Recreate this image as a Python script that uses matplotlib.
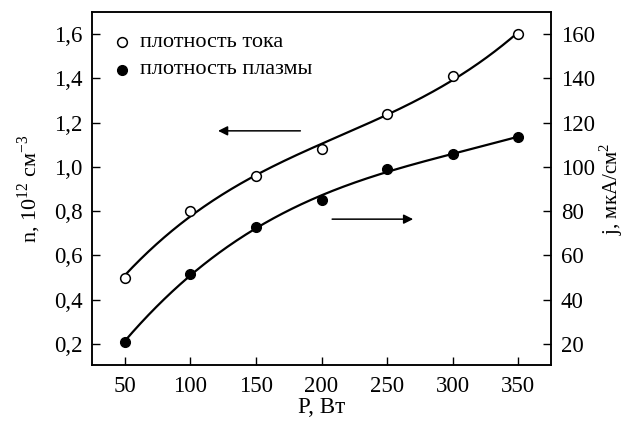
import numpy as np
import matplotlib
matplotlib.use("Agg")
import matplotlib.pyplot as plt
from matplotlib.ticker import FuncFormatter

plt.rcParams['font.family'] = ['Liberation Serif', 'DejaVu Serif']
plt.rcParams['mathtext.fontset'] = 'custom'
plt.rcParams['mathtext.rm'] = 'Liberation Serif'

power = [50, 100, 150, 200, 250, 300, 350]
current_density = [0.50, 0.80, 0.96, 1.08, 1.24, 1.41, 1.60]   # left axis, n units
plasma_density = [21, 51.5, 73, 85, 99, 106, 113.5]            # right axis, j units
label_open = "плотность тока"
label_filled = "плотность плазмы"
left_ticks = [0.2, 0.4, 0.6, 0.8, 1.0, 1.2, 1.4, 1.6]
right_ticks = [20, 40, 60, 80, 100, 120, 140, 160]
x_ticks = [50, 100, 150, 200, 250, 300, 350]

fig = plt.figure(figsize=(6.25, 4.21), dpi=100)
ax = fig.add_axes([92/625, 1-365/421, (551-92)/625, (365-12)/421])
ax2 = ax.twinx()

ax.set_xlim(25, 375)
ax.set_ylim(0.105, 1.70)
ax2.set_ylim(10.5, 170)

xs = np.linspace(50, 350, 300)
c1 = np.polyfit(power, current_density, 3)
ax.plot(xs, np.polyval(c1, xs), color='black', lw=1.6, zorder=2)
ax.plot(power, current_density, 'o', ms=7, mfc='white', mec='black', mew=1.1, zorder=3)

c2 = np.polyfit(power, plasma_density, 3)
ax2.plot(xs, np.polyval(c2, xs), color='black', lw=1.6, zorder=2)
ax2.plot(power, plasma_density, 'o', ms=7, mfc='black', mec='black', zorder=3)

ax.set_xticks(x_ticks)
ax.set_yticks(left_ticks)
ax2.set_yticks(right_ticks)
ax.yaxis.set_major_formatter(FuncFormatter(lambda v, p: f"{v:.1f}".replace('.', ',')))

for a in (ax, ax2):
    a.tick_params(direction='in', length=6, width=1, labelsize=16.5, pad=7)
    for s in a.spines.values():
        s.set_linewidth(1.1)
ax.tick_params(axis='y', right=False)
ax2.tick_params(axis='y', left=False)
ax.tick_params(axis='x', pad=8)

ax.set_xlabel("P, Вт", fontsize=16.5, labelpad=0)
ax.set_ylabel("n, 10$^{12}$ см$^{-3}$", fontsize=16, labelpad=8)
ax2.set_ylabel("j, мкА/см$^{2}$", fontsize=15, labelpad=2)

# legend
lx, ly1, ly2 = 0.065, 0.915, 0.836
ax.plot([lx], [ly1], 'o', ms=7, mfc='white', mec='black', mew=1.1, transform=ax.transAxes, clip_on=False)
ax.plot([lx], [ly2], 'o', ms=7, mfc='black', mec='black', transform=ax.transAxes, clip_on=False)
ax.text(0.105, ly1, label_open, transform=ax.transAxes, fontsize=16, va='center')
ax.text(0.105, ly2, label_filled, transform=ax.transAxes, fontsize=16, va='center')

# arrows
ax.annotate('', xy=(119, 1.163), xytext=(186, 1.163),
            arrowprops=dict(arrowstyle='-|>', color='black', lw=1.1, mutation_scale=14))
ax.annotate('', xy=(272, 0.764), xytext=(206, 0.764),
            arrowprops=dict(arrowstyle='-|>', color='black', lw=1.1, mutation_scale=14))

fig.savefig("out.png", dpi=100)
